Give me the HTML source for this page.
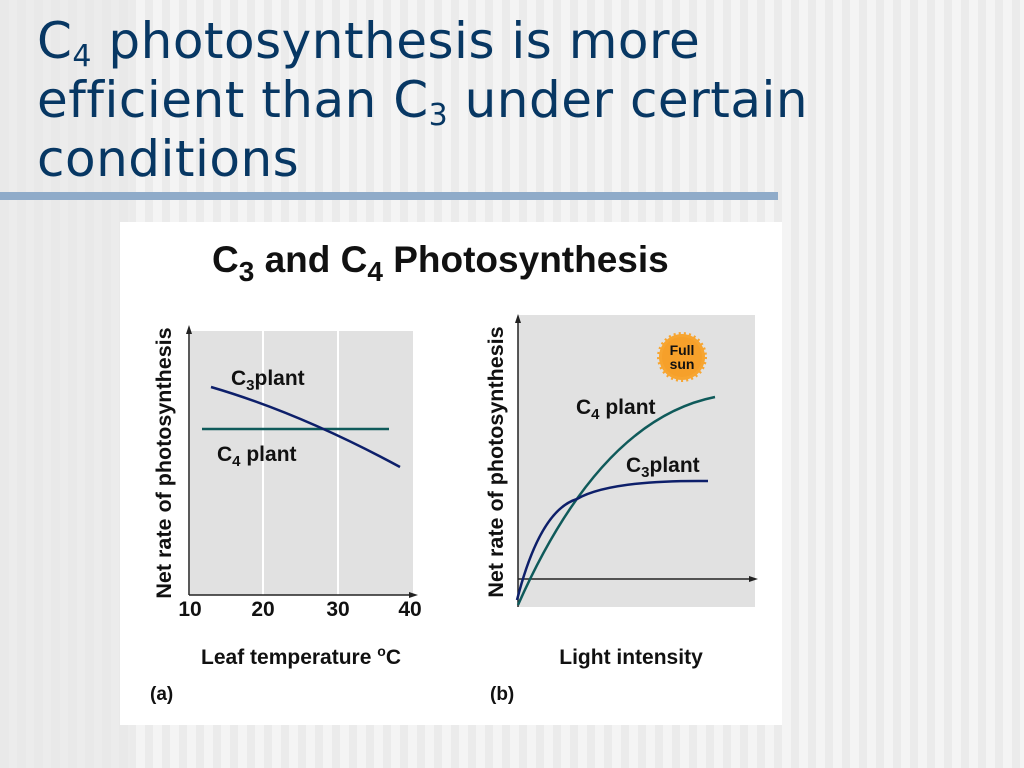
<!DOCTYPE html>
<html><head><meta charset="utf-8"><style>
body{margin:0;width:1024px;height:768px;overflow:hidden;position:relative;font-family:"DejaVu Sans","Liberation Sans",sans-serif;
background:repeating-linear-gradient(90deg,#f4f4f4 0 9px,#ebebeb 9px 17px);}
.left{position:absolute;left:0;top:0;width:130px;height:768px;background:repeating-linear-gradient(90deg,#e2e2e2 0 9px,#ededed 9px 17px);opacity:.6}
.t{position:absolute;left:37px;top:12px;color:#073763;font-size:50px;line-height:59px;letter-spacing:0.5px}
.t sub{font-size:30px;vertical-align:-8px;line-height:0}
.bar{position:absolute;left:0;top:192px;width:778px;height:8px;background:#8fabc9}
.panel{position:absolute;left:120px;top:222px;width:662px;height:503px;background:#fff}
</style></head><body>
<div class="left"></div>
<div class="t">C<sub>4</sub> photosynthesis is more<br>efficient than C<sub>3</sub> under certain<br>conditions</div>
<div class="bar"></div>
<div class="panel"></div>
<svg style="position:absolute;left:0;top:0" width="1024" height="768" font-family="Liberation Sans,Arial,sans-serif" font-weight="bold">
<text x="212" y="272" font-size="37" fill="#111">C<tspan font-size="28" dy="9">3</tspan><tspan dy="-9"> and C</tspan><tspan font-size="28" dy="9">4</tspan><tspan dy="-9"> Photosynthesis</tspan></text>
<!-- left chart -->
<rect x="190" y="331" width="223" height="264" fill="#e1e1e1"/>
<line x1="263" y1="331" x2="263" y2="595" stroke="#fff" stroke-width="2"/>
<line x1="338" y1="331" x2="338" y2="595" stroke="#fff" stroke-width="2"/>
<line x1="189" y1="333" x2="189" y2="595" stroke="#222" stroke-width="1.5"/>
<polygon points="189,325 186,334 192,334" fill="#222"/>
<line x1="189" y1="595" x2="412" y2="595" stroke="#222" stroke-width="1.5"/>
<polygon points="418,595 409,592 409,598" fill="#222"/>
<line x1="202" y1="429" x2="389" y2="429" stroke="#0f5a5a" stroke-width="2.5"/>
<path d="M211,387 Q300,413 400,467" fill="none" stroke="#0d1f6a" stroke-width="2.5"/>
<text x="231" y="385" font-size="21" fill="#111">C<tspan font-size="15" dy="5">3</tspan><tspan dy="-5">plant</tspan></text>
<text x="217" y="461" font-size="21" fill="#111">C<tspan font-size="15" dy="5">4</tspan><tspan dy="-5"> plant</tspan></text>
<g font-size="21" fill="#111" text-anchor="middle">
<text x="190" y="616">10</text><text x="263" y="616">20</text><text x="338" y="616">30</text><text x="410" y="616">40</text></g>
<text transform="translate(171,463) rotate(-90)" font-size="21.5" fill="#111" text-anchor="middle">Net rate of photosynthesis</text>
<text x="301" y="664" font-size="21" fill="#111" text-anchor="middle">Leaf temperature <tspan font-size="14" dy="-8">o</tspan><tspan dy="8">C</tspan></text>
<text x="150" y="700" font-size="19" fill="#111">(a)</text>
<!-- right chart -->
<rect x="518" y="315" width="237" height="292" fill="#e1e1e1"/>
<line x1="518" y1="320" x2="518" y2="607" stroke="#222" stroke-width="1.5"/>
<polygon points="518,314 515,323 521,323" fill="#222"/>
<line x1="518" y1="579" x2="752" y2="579" stroke="#222" stroke-width="1.5"/>
<polygon points="758,579 749,576 749,582" fill="#222"/>
<path d="M518,605 Q600,420 715,397" fill="none" stroke="#0f5a5a" stroke-width="2.5"/>
<path d="M517,600 Q540,510 577,499 Q610,480 708,481" fill="none" stroke="#0d1f6a" stroke-width="2.5"/>
<g transform="translate(682,357)">
<circle r="23" fill="#f7a531" stroke="#f7a531" stroke-width="4" stroke-dasharray="2 3"/>
<circle r="20" fill="#f6a02a"/>
<text y="-2" font-size="14" fill="#111" text-anchor="middle">Full</text>
<text y="12" font-size="14" fill="#111" text-anchor="middle">sun</text></g>
<text x="576" y="414" font-size="21" fill="#111">C<tspan font-size="15" dy="5">4</tspan><tspan dy="-5"> plant</tspan></text>
<text x="626" y="472" font-size="21" fill="#111">C<tspan font-size="15" dy="5">3</tspan><tspan dy="-5">plant</tspan></text>
<text transform="translate(503,462) rotate(-90)" font-size="21.5" fill="#111" text-anchor="middle">Net rate of photosynthesis</text>
<text x="631" y="664" font-size="21" fill="#111" text-anchor="middle">Light intensity</text>
<text x="490" y="700" font-size="19" fill="#111">(b)</text>
</svg>
</body></html>
